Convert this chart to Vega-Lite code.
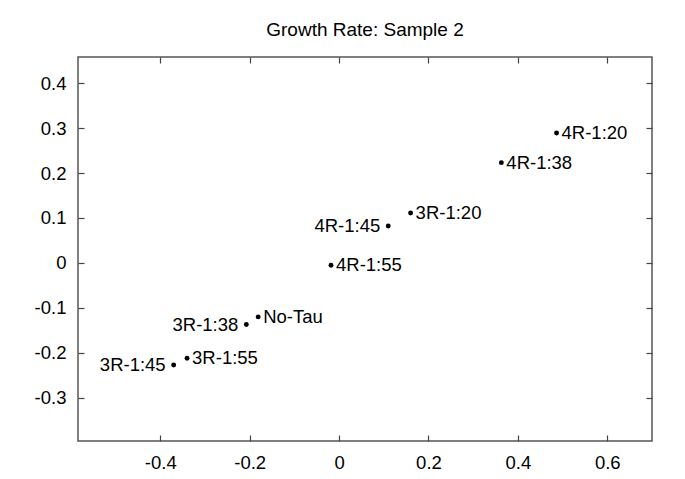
{
  "$schema": "https://vega.github.io/schema/vega-lite/v6.json",
  "width": 574,
  "height": 384,
  "autosize": {"type": "none"},
  "padding": {"left": 78, "top": 57, "right": 33, "bottom": 38},
  "background": "white",
  "title": {"text": "Growth Rate: Sample 2", "fontSize": 19, "font": "Liberation Sans", "fontWeight": "normal", "color": "black", "anchor": "middle", "offset": 16},
  "config": {
    "view": {"stroke": "#555555", "strokeWidth": 1.5},
    "axis": {"domain": false, "grid": false, "tickSize": -6, "tickColor": "#444444", "tickWidth": 1.2, "labelFont": "Liberation Sans", "labelFontSize": 18.5, "labelColor": "black", "title": null}
  },
  "data": {"values": [
    {"x": 0.4865, "y": 0.289, "label": "4R-1:20"},
    {"x": 0.363, "y": 0.223, "label": "4R-1:38"},
    {"x": 0.160, "y": 0.111, "label": "3R-1:20"},
    {"x": 0.110, "y": 0.082, "label": "4R-1:45"},
    {"x": -0.018, "y": -0.005, "label": "4R-1:55"},
    {"x": -0.181, "y": -0.120, "label": "No-Tau"},
    {"x": -0.2075, "y": -0.137, "label": "3R-1:38"},
    {"x": -0.340, "y": -0.212, "label": "3R-1:55"},
    {"x": -0.370, "y": -0.227, "label": "3R-1:45"}
  ]},
  "layer": [
    {
      "mark": {"type": "circle", "size": 24, "color": "black", "opacity": 1},
      "encoding": {
        "x": {"field": "x", "type": "quantitative", "scale": {"domain": [-0.584, 0.7], "nice": false, "zero": false},
              "axis": {"orient": "bottom", "values": [-0.4, -0.2, 0, 0.2, 0.4, 0.6], "labelExpr": "toString(round(datum.value*10)/10)", "labelPadding": 18}},
        "y": {"field": "y", "type": "quantitative", "scale": {"domain": [-0.396, 0.458], "nice": false, "zero": false},
              "axis": {"orient": "left", "values": [-0.3, -0.2, -0.1, 0, 0.1, 0.2, 0.3, 0.4], "labelExpr": "toString(round(datum.value*10)/10)", "labelPadding": 18}}
      }
    },
    {
      "transform": [{"filter": {"not": {"field": "label", "oneOf": ["4R-1:45", "3R-1:38", "3R-1:45"]}}}],
      "mark": {"type": "text", "align": "left", "baseline": "middle", "dx": 5, "font": "Liberation Sans", "fontSize": 18.5, "color": "black"},
      "encoding": {
        "x": {"field": "x", "type": "quantitative", "scale": {"domain": [-0.584, 0.7], "nice": false, "zero": false},
              "axis": {"orient": "top", "values": [-0.4, -0.2, 0, 0.2, 0.4, 0.6], "labels": false}},
        "y": {"field": "y", "type": "quantitative", "scale": {"domain": [-0.396, 0.458], "nice": false, "zero": false},
              "axis": {"orient": "right", "values": [-0.3, -0.2, -0.1, 0, 0.1, 0.2, 0.3, 0.4], "labels": false}},
        "text": {"field": "label"}
      }
    },
    {
      "transform": [{"filter": {"field": "label", "oneOf": ["4R-1:45", "3R-1:38", "3R-1:45"]}}],
      "mark": {"type": "text", "align": "right", "baseline": "middle", "dx": -8, "font": "Liberation Sans", "fontSize": 18.5, "color": "black"},
      "encoding": {
        "x": {"field": "x", "type": "quantitative", "scale": {"domain": [-0.584, 0.7], "nice": false, "zero": false}, "axis": null},
        "y": {"field": "y", "type": "quantitative", "scale": {"domain": [-0.396, 0.458], "nice": false, "zero": false}, "axis": null},
        "text": {"field": "label"}
      }
    }
  ],
  "resolve": {"axis": {"x": "independent", "y": "independent"}}
}
